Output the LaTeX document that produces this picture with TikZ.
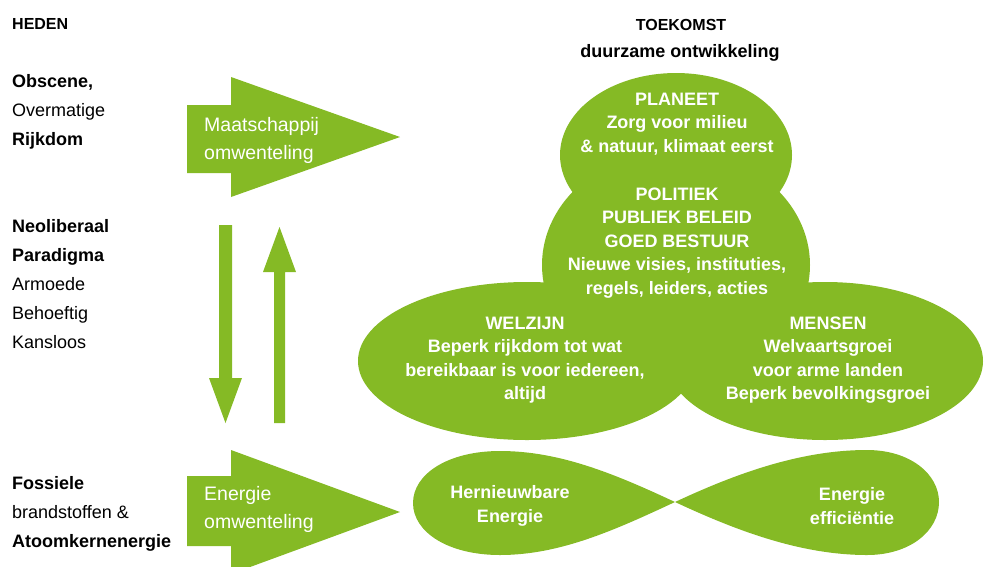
\documentclass[tikz,border=0pt]{standalone}
\usepackage{fontspec}
\setmainfont{Liberation Sans}
\definecolor{leaf}{RGB}{133,186,37}
\begin{document}
\begin{tikzpicture}[x=1pt,y=-1pt,
  lefttext/.style={anchor=west, align=left, inner sep=0pt, text=black, font=\fontsize{18}{29}\selectfont},
  blobtext/.style={align=center, inner sep=0pt, text=white, font=\bfseries\fontsize{18}{23.5}\selectfont},
  arrowtext/.style={anchor=west, align=left, inner sep=0pt, text=white, font=\fontsize{19.5}{28}\selectfont},
  headtext/.style={inner sep=0pt, text=black, font=\bfseries\fontsize{16}{20}\selectfont},
  subhead/.style={inner sep=0pt, text=black, font=\bfseries\fontsize{18}{22}\selectfont},
  greenfill/.style={fill=leaf, draw=none}]
\clip (0,0) rectangle (985,566);

% headings
\node[headtext, anchor=west] (heden) at (12,24) {HEDEN};
\node[headtext] (toekomst) at (681,25) {TOEKOMST};
\node[subhead] (duurzaam) at (680,53) {duurzame ontwikkeling};

% left column
\node[lefttext] (rijkdom) at (12,112) {\textbf{Obscene,}\\Overmatige\\\textbf{Rijkdom}};
\node[lefttext] (neolib) at (12,284) {\textbf{Neoliberaal}\\\textbf{Paradigma}\\Armoede\\Behoeftig\\Kansloos};
\node[lefttext] (fossiel) at (12,514) {\textbf{Fossiele}\\brandstoffen \&\\\textbf{Atoomkernenergie}};

% big arrows
\fill[greenfill] (187,105) -- (231,105) -- (231,77) -- (400,137) -- (231,197) -- (231,173) -- (187,173) -- cycle;
\fill[greenfill] (187,476) -- (231,476) -- (231,450) -- (400,512) -- (231,574) -- (231,546) -- (187,546) -- cycle;
\node[arrowtext] (maatsch) at (204,140) {Maatschappij\\omwenteling};
\node[arrowtext] (energiew) at (204,509) {Energie\\omwenteling};

% vertical arrows
\fill[greenfill] (219,225) -- (232,225) -- (232,378) -- (242,378) -- (225.5,423) -- (209,378) -- (219,378) -- cycle;
\fill[greenfill] (274,423) -- (285,423) -- (285,272) -- (296,272) -- (279.5,227) -- (263,272) -- (274,272) -- cycle;

% blobs
\fill[greenfill] (676,155) ellipse [x radius=116pt, y radius=82pt];
\fill[greenfill] (676,265) ellipse [x radius=134pt, y radius=115pt];
\fill[greenfill] (527,361) ellipse [x radius=169pt, y radius=79pt];
\fill[greenfill] (825,361) ellipse [x radius=158pt, y radius=79pt];

% infinity shape
\fill[greenfill] (675,502) .. controls (615,474) and (560,451) .. (500,451)
  .. controls (448,451) and (413,474) .. (413,503)
  .. controls (413,532) and (448,555) .. (500,555)
  .. controls (560,555) and (615,530) .. (675,502)
  .. controls (735,474) and (800,450) .. (867,450)
  .. controls (910,450) and (939,474) .. (939,502)
  .. controls (939,531) and (910,555) .. (867,555)
  .. controls (800,555) and (735,530) .. (675,502) -- cycle;

% blob texts
\node[blobtext] (planeet) at (677,124) {PLANEET\\Zorg voor milieu\\\& natuur, klimaat eerst};
\node[blobtext] (politiek) at (677,243) {POLITIEK\\PUBLIEK BELEID\\GOED BESTUUR\\Nieuwe visies, instituties,\\regels, leiders, acties};
\node[blobtext] (welzijn) at (525,360) {WELZIJN\\Beperk rijkdom tot wat\\bereikbaar is voor iedereen,\\altijd};
\node[blobtext] (mensen) at (828,360) {MENSEN\\Welvaartsgroei\\voor arme landen\\Beperk bevolkingsgroei};
\node[blobtext] (hernieuw) at (510,506) {Hernieuwbare\\Energie};
\node[blobtext] (effic) at (852,506) {Energie\\efficiëntie};
\end{tikzpicture}
\end{document}
